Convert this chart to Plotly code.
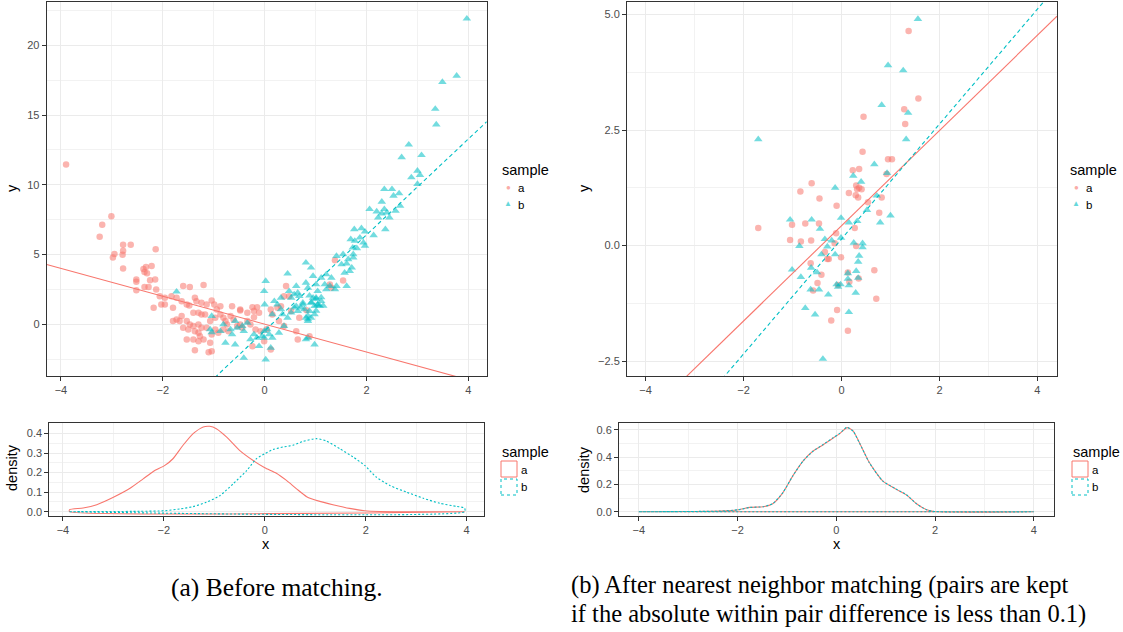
import plotly.graph_objects as go

RED = "#F8766D"
CYAN = "#00BFC4"
W, H = 1123, 632

# ---------------- (a) Before matching: scatter ----------------
a_before_x = [-3.90, -3.01, -3.19, -3.24, -2.95, -2.98, -2.78, -2.78, -2.79, -2.63, -2.78, -2.14, -2.52, -2.52,
              -2.52, -2.38, -2.33, -2.36, -2.31, -2.22, -2.15, -2.25,
              -2.36, -2.28, -2.13, -2.06, -1.96, -2.03, -1.96, -2.18, -1.80, -1.83, -1.73, -1.60, -1.47, -1.20,
              -1.63, -1.53, -1.48, -1.37, -1.34, -1.24, -1.14, -1.04, -0.99, -0.94, -0.87, -1.40, -1.30, -1.24,
              -1.17, -1.63, -1.73, -1.67, -1.80, -1.53, -1.47, -1.40, -1.30, -1.24, -1.14, -1.07, -0.97, -0.87,
              -0.81, -0.77, -0.74, -0.67, -0.61, -0.64, -0.48, -0.34, -0.21, -1.60, -1.50, -1.37, -1.30, -1.27,
              -1.53, -1.40, -1.30, -1.20, -1.04, -1.07, -1.37, -1.10, -1.04, -0.97, -0.91, -0.81, -0.71, -0.54,
              -0.48, -0.44, -0.34, -0.28, -0.18, -0.08, 0.42, 0.48, 0.65, 0.88,
              -0.48, -0.24, -0.15, -0.21, -0.11, 0.12, 0.15, 0.25, 0.32, 0.38, 0.52, 0.28, 0.38, 0.62, 0.12,
              -0.01, -0.24, 1.54, 1.38, 1.31, 1.28, 0.68, 0.82, 0.04]
a_before_y = [11.45, 7.74, 7.14, 6.28, 5.03, 4.79, 5.70, 5.27, 4.98, 5.70, 4.00, 5.37, 3.21, 3.04,
              2.44, 3.95, 4.10, 3.75, 3.65, 4.17, 3.20, 3.16,
              2.66, 2.66, 2.49, 2.01, 1.89, 1.41, 1.41, 1.18, 1.18, 2.01, 1.89, 2.73, 2.66, 2.81,
              1.65, 1.41, 1.34, 1.89, 1.65, 1.53, 1.41, 1.70, 1.41, 1.06, 1.29, 0.82, 0.82, 0.70,
              0.70, 0.58, 0.34, 0.22, 0.22, 0.22, -0.02, -0.14, -0.02, -0.26, -0.26, 0.22, 0.46, 0.70,
              0.46, 0.22, -0.02, 0.58, 0.34, 1.29, 1.06, 0.82, 0.94, -0.26, -0.38, -0.50, -0.62, -0.86,
              -1.10, -1.10, -1.22, -1.10, -0.74, -1.34, -1.87, -2.01, -1.94, -0.38, -0.62, -0.38, -0.50, -0.14,
              -0.02, -0.26, 0.22, -0.02, -0.38, -0.50, 2.73, 2.01, -1.10, -0.86,
              0.98, 1.22, 1.22, 0.50, 0.82, 1.06, 0.70, 1.18, 1.29, 2.01, 0.94, 0.22, -0.14, -0.50, -1.82,
              -1.22, -1.58, 3.14, 4.58, 2.61, 2.85, 0.46, 1.00, -0.36]

b_before_x = [-1.73, -1.04, -1.07, -1.04, -0.87, -0.81, -0.77, -0.67, -0.64, -0.54, -0.58, -0.44, -0.34,
              -0.28, -0.21, -0.15, -0.11, -0.05, -0.01, 0.02, 0.00, 0.05, 0.12, 0.02, 0.15, 0.19, 0.25, 0.28,
              0.32, 0.35, 0.38, 0.45, 0.52, 0.58, 0.62, 0.65, 0.75, 0.78, 0.81, 0.85, 0.88, 0.98, 1.01, 0.98,
              1.04, 0.81,
              -0.41, -0.58, -0.41, 0.15, -0.01, 0.09,
              -0.01, 0.32, 0.45, 0.48, 0.62, 0.65, 0.68, 0.75, 0.81, 0.91, 0.95, 0.81, 0.85, 0.95, 0.91, 0.98,
              1.11, 1.04, 1.01, 1.18, 1.21, 1.28, 1.38, 1.41, 1.31, 1.57, 1.61, 1.21, 1.11, 0.85, 0.91, 0.52,
              0.58, 0.71, 0.85,
              0.88, 0.92, 1.01, 1.04, 1.08, 1.11, 1.01, 0.85, 1.15,
              2.83, 2.69, 3.08, 3.00, 3.05, 2.88, 3.00, 2.35, 2.50, 2.64, 2.53, 2.30, 2.66, 2.06, 2.20, 2.35,
              2.30, 2.40, 2.23, 2.45, 2.57, 1.76, 1.90, 1.97, 2.14, 2.37, 1.69, 1.77, 1.87, 1.94, 1.97, 1.73,
              1.81, 1.74, 1.74, 1.64, 1.54, 1.61, 1.51, 1.41, 1.71, 1.67,
              3.35, 3.37, 3.49, 3.77, 3.97]
b_before_y = [2.33, 0.58, -0.38, -0.58, -0.50, -0.02, -1.34, -0.38, -0.74, -0.26, -1.46, -0.14, 0.10,
              -1.10, -0.74, -0.98, -1.58, -0.86, -0.50, 3.09, 1.41, -0.38, -1.70, -2.54, 0.70, 1.65, 1.41, -0.62,
              1.06, 0.70, -0.14, 0.46, 1.89, 2.13, 1.29, 0.94, 1.53, 1.06, 0.46, 0.22, 0.94, 0.70, 1.89, -1.46,
              1.41, -1.10,
              -2.42, 0.22, -0.50, -0.98, -0.98, -0.74,
              2.37, 1.89, 3.62, 2.37, 2.73, 2.25, 2.01, 1.41, 4.41, 4.05, 3.45, 2.97, 2.61, 1.89, 1.53, 1.29,
              1.65, 2.37, 2.85, 2.85, 2.49, 2.73, 2.49, 2.73, 3.33, 3.69, 2.73, 3.57, 3.33, 0.34, 0.46, 0.82,
              1.18, 1.18, -0.98,
              2.04, 1.56, 1.80, 1.39, 1.32, 1.92, 0.96, 0.60, 1.32,
              12.88, 11.97, 12.13, 11.01, 10.70, 10.53, 10.05, 9.69, 9.69, 9.38, 9.21, 8.78, 8.49, 8.25, 8.08, 8.25,
              7.94, 8.01, 7.65, 7.65, 8.13, 6.81, 6.88, 6.64, 6.38, 6.81, 6.09, 5.97, 6.21, 5.85, 5.61, 5.49,
              5.44, 5.01, 4.77, 4.65, 5.01, 4.34, 4.29, 4.89, 4.05, 3.81,
              15.45, 14.32, 17.37, 17.82, 21.92]

# ---------------- (b) After matching: scatter ----------------
a_after_x = [-1.70, -1.05, -1.01, -0.84, -0.83, -0.74, -0.61, -0.62, -0.63, -0.58, -0.49, -0.46, -0.45, -0.41,
             -0.34, -0.29, -0.26, -0.21, -0.10, -0.11, -0.14, -0.09, -0.07, -0.01, 0.13, 0.13, 0.15, 0.16, 0.23,
             0.27, 0.29, 0.30, 0.32, 0.30, 0.34, 0.35, 0.36, 0.36, 0.41, 0.43, 0.45, 0.54, 0.67, 0.71, 0.77,
             0.82, 0.92, 0.95, 1.03, 1.28, 1.30, 1.37, 1.57]
a_after_y = [0.38, 0.12, 0.45, 1.17, 0.09, 0.48, 1.35, 0.11, -0.38, -0.97, -0.81, 0.48, 1.02, -0.63,
             -0.14, -0.29, -0.29, -1.62, 0.86, 0.27, 0.05, -1.39, -0.85, -0.25, -1.84, -0.58, 1.14, -0.78, 1.63,
             0.38, 1.09, 1.30, 1.22, -0.01, 1.04, -0.71, 1.66, 1.25, 1.22, 2.03, 2.79, 0.94, -0.53, -1.15, 0.71,
             1.04, 1.55, 1.87, 1.87, 2.95, 2.63, 4.64, 3.18]

b_after_x = [-1.70, -1.05, -1.01, -0.86, -0.83, -0.74, -0.63, -0.62, -0.61, -0.54, -0.50, -0.46, -0.44, -0.41,
             -0.38, -0.34, -0.29, -0.27, -0.20, -0.13, -0.13, -0.10, -0.07, -0.02, -0.01, -0.01, 0.13, 0.15,
             0.15, 0.15, 0.13, 0.24, 0.25, 0.29, 0.30, 0.32, 0.34, 0.36, 0.34, 0.40, 0.43, 0.43, 0.52, 0.67,
             0.72, 0.79, 0.82, 0.93, 0.95, 1.00, 1.26, 1.32, 1.36, 1.56]
b_after_y = [2.30, 0.56, -0.52, -0.01, -0.68, -1.35, -0.95, -0.48, 0.56, -1.49, -0.58, -0.95, 0.36, -0.19,
             -2.45, 0.14, -0.02, -1.06, 0.11, 1.25, -0.19, -0.84, -0.89, -0.84, 0.60, 0.17, -0.60, 0.50,
             -1.44, -0.86, -0.72, 1.51, 0.06, -1.02, -0.55, 0.53, -0.35, -0.22, -0.70, 1.38, 0.05, -0.04, 0.77,
             1.76, 1.08, 0.50, 3.04, 1.57, 3.90, 0.65, 3.79, 2.30, 2.87, 4.90]

# Fitted lines (intercept, slope) for samples a and b
before_intercepts = [0.00, -0.47]
before_slopes = [-1.00, 3.44]
after_intercepts = [0.43, 0.143]
after_slopes = [1.03, 1.243]

# ---------------- densities ----------------
dens_before_a_x = [-3.87, -3.60, -3.33, -3.00, -2.67, -2.41, -2.21, -1.98, -1.82, -1.62, -1.42, -1.22, -1.09,
                   -0.96, -0.76, -0.50, -0.23, 0.00, 0.23, 0.43, 0.63, 0.83, 1.09, 1.35, 1.68, 1.98, 2.28, 3.00, 3.96]
dens_before_a_y = [0.010, 0.019, 0.036, 0.074, 0.120, 0.168, 0.206, 0.237, 0.271, 0.340, 0.400, 0.434, 0.437,
                   0.425, 0.383, 0.314, 0.262, 0.225, 0.197, 0.160, 0.117, 0.077, 0.053, 0.036, 0.017, 0.005,
                   0.001, 0.000, 0.000]
dens_before_b_x = [-3.87, -2.48, -1.98, -1.68, -1.42, -1.16, -0.89, -0.63, -0.36, -0.17, 0.00, 0.17, 0.36,
                   0.56, 0.76, 1.02, 1.22, 1.49, 1.75, 1.98, 2.21, 2.48, 2.81, 3.14, 3.47, 3.80, 3.96]
dens_before_b_y = [0.000, 0.002, 0.005, 0.014, 0.026, 0.048, 0.082, 0.142, 0.210, 0.270, 0.297, 0.319, 0.331,
                   0.340, 0.360, 0.374, 0.362, 0.322, 0.280, 0.237, 0.177, 0.134, 0.100, 0.069, 0.043, 0.027,
                   0.019]
dens_after_a_x = [-4.00, -2.36, -1.98, -1.75, -1.48, -1.28, -1.08, -0.88, -0.67, -0.47, -0.27, -0.07, 0.07,
                  0.22, 0.34, 0.47, 0.67, 0.94, 1.21, 1.42, 1.62, 1.82, 1.99, 4.00]
dens_after_a_y = [0.000, 0.005, 0.015, 0.032, 0.037, 0.061, 0.141, 0.263, 0.373, 0.446, 0.490, 0.539, 0.573,
                  0.617, 0.593, 0.507, 0.361, 0.227, 0.166, 0.124, 0.061, 0.017, 0.002, 0.000]
dens_after_b_x = [-4.00, -2.36, -1.98, -1.75, -1.48, -1.28, -1.08, -0.88, -0.67, -0.47, -0.27, -0.07, 0.07,
                  0.22, 0.34, 0.47, 0.67, 0.94, 1.21, 1.42, 1.62, 1.82, 1.99, 4.00]
dens_after_b_y = [0.000, 0.005, 0.015, 0.032, 0.037, 0.061, 0.141, 0.263, 0.373, 0.444, 0.492, 0.541, 0.575,
                  0.620, 0.591, 0.505, 0.360, 0.226, 0.167, 0.125, 0.060, 0.016, 0.002, 0.000]

x_ticks = [-4, -2, 0, 2, 4]
y_ticks_a = [0, 5, 10, 15, 20]
y_ticks_b = [-2.5, 0.0, 2.5, 5.0]
dens_ticks_a = [0.0, 0.1, 0.2, 0.3, 0.4]
dens_ticks_b = [0.0, 0.2, 0.4, 0.6]

# axis ranges (panel extents)
XR1 = [-4.28, 4.36]
YR1 = [-3.72, 23.12]
XR2 = [-4.27, 4.35]
YR2 = [-0.022, 0.454]
XR3 = [-4.38, 4.40]
YR3 = [-2.82, 5.27]
XR4 = [-4.40, 4.40]
YR4 = [-0.031, 0.651]


def px(v):
    return v / W


def py(v):
    return 1 - v / H


fig = go.Figure()


def scatter(xs, ys, color, symbol, size, xa, ya):
    fig.add_trace(go.Scatter(x=xs, y=ys, mode="markers", xaxis=xa, yaxis=ya, showlegend=False,
                             marker=dict(color=color, symbol=symbol, size=size, opacity=0.55,
                                         line=dict(width=0))))


def abline(b0, b1, xr, color, dash, xa, ya):
    xs = [xr[0], xr[1]]
    fig.add_trace(go.Scatter(x=xs, y=[b0 + b1 * v for v in xs], mode="lines", xaxis=xa, yaxis=ya,
                             showlegend=False, line=dict(color=color, width=1.1, dash=dash)))


def density(xs, ys, color, dash, xa, ya):
    cx = [xs[0]] + list(xs) + [xs[-1], xs[0]]
    cy = [0] + list(ys) + [0, 0]
    fig.add_trace(go.Scatter(x=cx, y=cy, mode="lines", xaxis=xa, yaxis=ya, showlegend=False,
                             line=dict(color=color, width=1.1, dash=dash, shape="spline", smoothing=0.6)))


DASH = "4px,3px"
DOT = "2px,2px"

scatter(a_before_x, a_before_y, RED, "circle", 6.5, "x", "y")
scatter(b_before_x, b_before_y, CYAN, "triangle-up", 7.5, "x", "y")
abline(before_intercepts[0], before_slopes[0], XR1, RED, "solid", "x", "y")
abline(before_intercepts[1], before_slopes[1], XR1, CYAN, DASH, "x", "y")

density(dens_before_a_x, dens_before_a_y, RED, "solid", "x2", "y2")
density(dens_before_b_x, dens_before_b_y, CYAN, DOT, "x2", "y2")

scatter(a_after_x, a_after_y, RED, "circle", 6.5, "x3", "y3")
scatter(b_after_x, b_after_y, CYAN, "triangle-up", 7.5, "x3", "y3")
abline(after_intercepts[0], after_slopes[0], XR3, RED, "solid", "x3", "y3")
abline(after_intercepts[1], after_slopes[1], XR3, CYAN, DASH, "x3", "y3")

density(dens_after_a_x, dens_after_a_y, RED, "solid", "x4", "y4")
density(dens_after_b_x, dens_after_b_y, CYAN, DOT, "x4", "y4")

GRID = "#EBEBEB"
SANS = "Liberation Sans, Arial, sans-serif"
TICKFONT = dict(family=SANS, size=11, color="#4D4D4D")


def axis(domain, rng, ticks, minor, anchor, fmt=None):
    d = dict(domain=domain, range=rng, anchor=anchor, tickmode="array", tickvals=ticks,
             showgrid=True, gridcolor=GRID, gridwidth=1, zeroline=False,
             showline=True, mirror=True, linecolor="#333333", linewidth=1,
             ticks="outside", ticklen=4, tickwidth=1, tickcolor="#333333",
             tickfont=TICKFONT,
             minor=dict(tickvals=minor, showgrid=True, gridcolor="#F2F2F2", gridwidth=1, ticks=""))
    if fmt:
        d["tickformat"] = fmt
    return d


x_minor = [-3, -1, 1, 3]
fig.update_layout(
    width=W, height=H, margin=dict(l=0, r=0, t=0, b=0, autoexpand=False),
    paper_bgcolor="white", plot_bgcolor="white", showlegend=False,
    xaxis=axis([px(46.7), px(486.7)], XR1, x_ticks, x_minor, "y"),
    yaxis=axis([py(376), py(2)], YR1, y_ticks_a, [-2.5, 2.5, 7.5, 12.5, 17.5, 22.5], "x"),
    xaxis2=axis([px(49.3), px(484.3)], XR2, x_ticks, x_minor, "y2"),
    yaxis2=axis([py(516), py(423)], YR2, dens_ticks_a, [0.05, 0.15, 0.25, 0.35, 0.45], "x2", ".1f"),
    xaxis3=axis([px(627), px(1057)], XR3, x_ticks, x_minor, "y3"),
    yaxis3=axis([py(376), py(2)], YR3, y_ticks_b, [-1.25, 1.25, 3.75], "x3", ".1f"),
    xaxis4=axis([px(619), px(1053.5)], XR4, x_ticks, x_minor, "y4"),
    yaxis4=axis([py(516), py(423)], YR4, dens_ticks_b, [0.1, 0.3, 0.5], "x4", ".1f"),
)

ann = []


def text(x, y, s, size=14.5, color="black", xanchor="center", angle=0, family=SANS, opacity=1):
    ann.append(dict(x=px(x), y=py(y), xref="paper", yref="paper", text=s, showarrow=False,
                    xanchor=xanchor, yanchor="middle", textangle=angle, opacity=opacity,
                    font=dict(family=family, size=size, color=color)))


# axis titles
text(12, 188, "y", angle=-90)
text(584, 188, "y", angle=-90)
text(12, 468, "density", angle=-90)
text(584, 470, "density", angle=-90)
text(266, 544, "x")
text(837, 544, "x")

# scatter legends
for lx in (500, 1068):
    text(lx, 170, "sample", xanchor="left")
    text(lx + 8, 187, "●", size=8, color=RED, opacity=0.6)
    text(lx + 8, 204, "▲", size=8, color=CYAN, opacity=0.6)
    text(lx + 16, 188, "a", size=11.5, xanchor="left")
    text(lx + 16, 205, "b", size=11.5, xanchor="left")

shapes = []
for lx in (500, 1071):
    text(lx, 452, "sample", xanchor="left")
    shapes.append(dict(type="rect", xref="paper", yref="paper", x0=px(lx + 1), x1=px(lx + 17),
                       y0=py(477), y1=py(461), line=dict(color=RED, width=1), fillcolor="white"))
    shapes.append(dict(type="rect", xref="paper", yref="paper", x0=px(lx + 1), x1=px(lx + 17),
                       y0=py(495), y1=py(479), line=dict(color=CYAN, width=1, dash="dot"),
                       fillcolor="white"))
    text(lx + 19, 470, "a", size=11.5, xanchor="left")
    text(lx + 19, 487, "b", size=11.5, xanchor="left")

# captions
SERIF = "Liberation Serif, Times New Roman, serif"
text(277, 587, "(a) Before matching.", size=25.5, family=SERIF)
text(569, 585, "(b) After nearest neighbor matching (pairs are kept", size=24.5, family=SERIF, xanchor="left")
text(569, 614, "if the absolute within pair difference is less than 0.1)", size=24.5, family=SERIF,
     xanchor="left")

fig.update_layout(annotations=ann, shapes=shapes)
fig.write_html("out.html", config={"displayModeBar": False},
               post_script="document.body.style.margin='0px';document.body.style.overflow='hidden';")
